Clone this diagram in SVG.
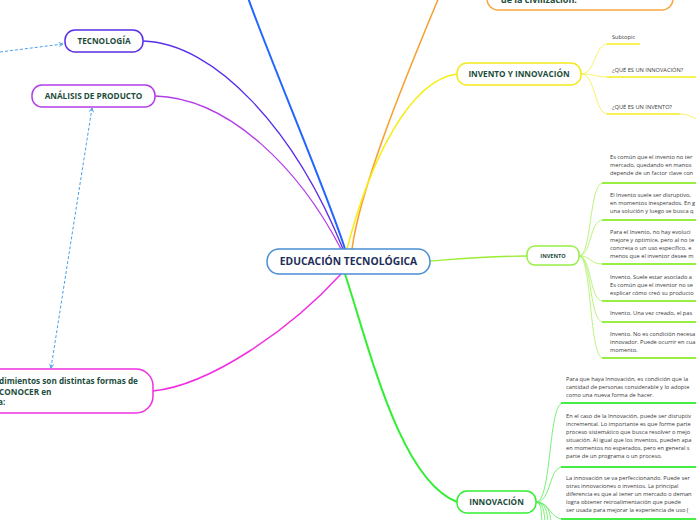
<svg xmlns="http://www.w3.org/2000/svg" width="696" height="520" viewBox="0 0 696 520">
<defs>
<marker id="chev" viewBox="0 0 10 10" refX="9" refY="5" markerWidth="5" markerHeight="5" orient="auto-start-reverse" markerUnits="userSpaceOnUse">
<path d="M1,1 L9,5 L1,9" fill="none" stroke="#4a9fe8" stroke-width="1.8"/>
</marker>
<style>
.node{fill:#ffffff;stroke-width:1.5}
.t{font-family:"Open Sans","Noto Sans","Liberation Sans",sans-serif;font-weight:bold;fill:#1d4d3c;text-anchor:middle}
.s{font-family:"Open Sans","Noto Sans","Liberation Sans",sans-serif;font-size:5.7px;fill:#3a3a3a}
.c{fill:none}
.ul1{stroke:#99ee44;stroke-width:2}
.ul2{stroke:#44ee44;stroke-width:2}
.ul3{stroke:#f5ee1a;stroke-width:1.5}
.k1{stroke:#aaf060;stroke-width:0.8;fill:none}
.k2{stroke:#55ee55;stroke-width:0.8;fill:none}
.k3{stroke:#f5ee40;stroke-width:0.8;fill:none}
.dash{stroke:#4a9fe8;stroke-width:1;stroke-dasharray:3,2;fill:none}
</style>
</defs>
<rect width="696" height="520" fill="#ffffff"/>

<g id="connectors">
<path class="c" d="M345,249 C330,200 270,60 247,-5" stroke="#2266ff" stroke-width="2"/>
<path class="c" d="M143,41 C215,43 295,130 343,249" stroke="#5a2ee8" stroke-width="1.3"/>
<path class="c" d="M155,96 C230,98 300,170 341,249" stroke="#b43ce8" stroke-width="1.3"/>
<path class="c" d="M153,391 C210,385 290,330 341,274" stroke="#f030e0" stroke-width="1.5"/>
<path class="c" d="M352,249 C360,190 400,90 442,-10" stroke="#f7a030" stroke-width="1.5"/>
<path class="c" d="M347,249 C370,160 410,80 457,74" stroke="#f5ee10" stroke-width="1.5"/>
<path class="c" d="M430,261 C470,258 490,256 527,256" stroke="#99ee33" stroke-width="1.3"/>
<path class="c" d="M345,274 C370,350 400,480 457,502" stroke="#33ee33" stroke-width="2"/>

<path class="dash" d="M0,52 L63,44" marker-end="url(#chev)"/>
<path class="dash" d="M92,108 L51,368" marker-start="url(#chev)" marker-end="url(#chev)"/>

<path class="k3" d="M581,74 C596,74 594,44 608,44"/>
<path class="k3" d="M581,74 C596,74 594,77 608,77"/>
<path class="k3" d="M581,74 C596,74 594,114 608,114"/>
<path class="k3" d="M680,114 C688,114 692,117 700,121"/>
<line class="ul3" x1="607" y1="44" x2="640" y2="44"/>
<line class="ul3" x1="607" y1="77" x2="696" y2="77"/>
<line class="ul3" x1="607" y1="114" x2="680" y2="114"/>

<path class="k1" d="M579,256 C592,256 589,183 603,183"/>
<path class="k1" d="M579,256 C592,256 589,220 603,220"/>
<path class="k1" d="M579,256 C592,256 589,264 603,264"/>
<path class="k1" d="M579,256 C592,256 589,301 603,301"/>
<path class="k1" d="M579,256 C592,256 589,322 603,322"/>
<path class="k1" d="M579,256 C592,256 589,358 603,358"/>
<line class="ul1" x1="602" y1="183" x2="696" y2="183"/>
<line class="ul1" x1="602" y1="220" x2="696" y2="220"/>
<line class="ul1" x1="602" y1="264" x2="696" y2="264"/>
<line class="ul1" x1="602" y1="301" x2="696" y2="301"/>
<line class="ul1" x1="602" y1="322" x2="696" y2="322"/>
<line class="ul1" x1="602" y1="358" x2="696" y2="358"/>

<path class="k2" d="M536,502 C552,502 548,403 563,403"/>
<path class="k2" d="M536,502 C552,502 548,467 563,467"/>
<path class="k2" d="M536,502 C550,502 550,519 563,519"/>
<path class="k2" d="M536,502 C542,503 541,512 542,522"/>
<path class="k2" d="M536,502 C544,503 544,512 545,522"/>
<path class="k2" d="M536,502 C546,503 547,512 548,522"/>
<path class="k2" d="M536,502 C548,503 550,512 551,522"/>
<line class="ul2" x1="561" y1="403" x2="696" y2="403"/>
<line class="ul2" x1="561" y1="467" x2="696" y2="467"/>
<line class="ul2" x1="561" y1="519" x2="696" y2="519"/>
</g>

<g id="center">
<rect class="node" x="267" y="249" width="163" height="25" rx="12" stroke="#4a8fd4"/>
<text class="t" x="348.5" y="265" font-size="10.3" style="fill:#1e2d5a">EDUCACIÓN TECNOLÓGICA</text>
</g>

<g id="tecnologia">
<rect class="node" x="65" y="30" width="78" height="22" rx="10" stroke="#5a2ee8"/>
<text class="t" x="104" y="44" font-size="8.2">TECNOLOGÍA</text>
</g>

<g id="analisis">
<rect class="node" x="32" y="85" width="123" height="22" rx="10" stroke="#b43ce8"/>
<text class="t" x="93.5" y="99" font-size="8.2">ANÁLISIS DE PRODUCTO</text>
</g>

<g id="procedimientos">
<rect class="node" x="-60" y="369" width="213" height="44" rx="17" stroke="#f030e0"/>
<text class="t" x="-1" y="383.5" font-size="8.2" style="text-anchor:start">dimientos son distintas formas de</text>
<text class="t" x="-1" y="394.5" font-size="8.2" style="text-anchor:start">CONOCER en</text>
<text class="t" x="-2" y="404.5" font-size="8.2" style="text-anchor:start">a:</text>
</g>

<g id="civilizacion">
<rect class="node" x="487" y="-40" width="186" height="50" rx="11" stroke="#f7a742"/>
<text class="t" x="501" y="3" font-size="9" style="text-anchor:start">de la civilización.</text>
</g>

<g id="invento-innovacion">
<rect class="node" x="457" y="63" width="124" height="22" rx="10" stroke="#f2ea1c"/>
<text class="t" x="519" y="77" font-size="8.2">INVENTO Y INNOVACIÓN</text>
</g>
<g id="yellow-subtopics">
<text class="s" x="612" y="39">Subtopic</text>
<text class="s" x="612" y="72">¿QUÉ ES UN INNOVACIÓN?</text>
<text class="s" x="612" y="109">¿QUÉ ES UN INVENTO?</text>
</g>

<g id="invento">
<rect class="node" x="527" y="246" width="52" height="19" rx="8" stroke="#99ee44"/>
<text class="t" x="553" y="257.5" font-size="5.6">INVENTO</text>
</g>
<g id="invento-children">
<text class="s" x="610" y="159">Es común que el invento no ter</text>
<text class="s" x="610" y="167">mercado, quedando en manos</text>
<text class="s" x="610" y="175">depende de un factor clave con</text>
<text class="s" x="610" y="197">El Invento suele ser disruptivo,</text>
<text class="s" x="610" y="205">en momentos inesperados. En g</text>
<text class="s" x="610" y="213">una solución y luego se busca q</text>
<text class="s" x="610" y="234">Para el Invento, no hay evoluci</text>
<text class="s" x="610" y="242">mejore y optimice, pero al no te</text>
<text class="s" x="610" y="250">concreta o un uso específico, e</text>
<text class="s" x="610" y="258">menos que el inventor desee m</text>
<text class="s" x="610" y="279">Invento. Suele estar asociado a</text>
<text class="s" x="610" y="287">Es común que el inventor no se</text>
<text class="s" x="610" y="295">explicar cómo creó su producto</text>
<text class="s" x="610" y="315">Invento. Una vez creado, el pas</text>
<text class="s" x="610" y="336">Invento. No es condición necesa</text>
<text class="s" x="610" y="344">innovador. Puede ocurrir en cua</text>
<text class="s" x="610" y="352">momento.</text>
</g>

<g id="innovacion">
<rect class="node" x="457" y="491" width="79" height="22" rx="10" stroke="#33ee33"/>
<text class="t" x="496.5" y="505" font-size="8.2">INNOVACIÓN</text>
</g>
<g id="innovacion-children">
<text class="s" x="566" y="381">Para que haya Innovación, es condición que la</text>
<text class="s" x="566" y="389">cantidad de personas considerable y lo adopte</text>
<text class="s" x="566" y="397">como una nueva forma de hacer.</text>
<text class="s" x="566" y="418">En el caso de la Innovación, puede ser disruptiv</text>
<text class="s" x="566" y="426">incremental. Lo importante es que forme parte</text>
<text class="s" x="566" y="434">proceso sistemático que busca resolver o mejo</text>
<text class="s" x="566" y="442">situación. Al igual que los inventos, pueden apa</text>
<text class="s" x="566" y="450">en momentos no esperados, pero en general s</text>
<text class="s" x="566" y="458">parte de un programa o un proceso.</text>
<text class="s" x="566" y="480">La innovación se va perfeccionando. Puede ser</text>
<text class="s" x="566" y="488">otras innovaciones o inventos. La principal</text>
<text class="s" x="566" y="496">diferencia es que al tener un mercado o deman</text>
<text class="s" x="566" y="504">logra obtener retroalimentación que puede</text>
<text class="s" x="566" y="512">ser usada para mejorar la experiencia de uso (</text>
</g>
</svg>
